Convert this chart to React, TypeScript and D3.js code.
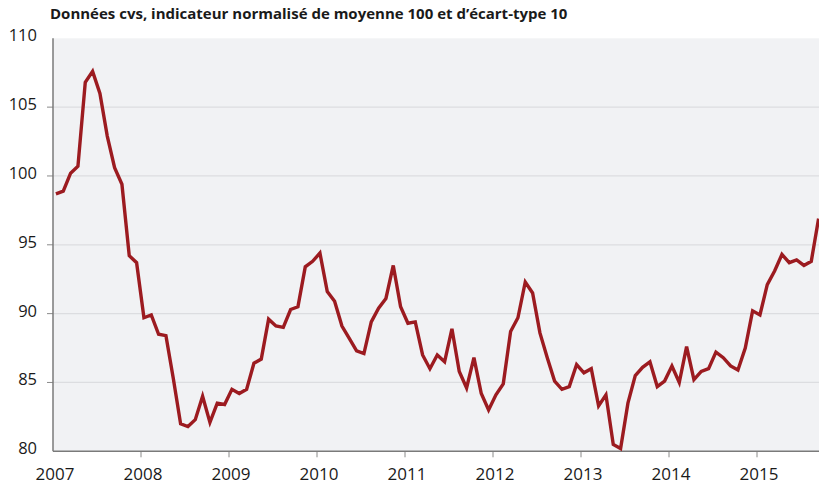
import React from 'react';
import * as d3 from 'd3';

const width = 819;
const height = 484;
const margin = { top: 38.3, right: 0, bottom: 32.7, left: 53 };

const title = 'Données cvs, indicateur normalisé de moyenne 100 et d’écart-type 10';
const startYear = 2007;
const yearTicks = [2007, 2008, 2009, 2010, 2011, 2012, 2013, 2014, 2015];
const valueTicks = [80, 85, 90, 95, 100, 105, 110];

// monthly values, Jan 2007 -> Sep 2015
const values = [
  98.7, 98.9, 100.2, 100.7, 106.8, 107.6, 106.0, 102.9, 100.6, 99.4, 94.2, 93.7,
  89.7, 89.9, 88.5, 88.4, 85.3, 82.0, 81.8, 82.3, 84.0, 82.1, 83.5, 83.4,
  84.5, 84.2, 84.5, 86.4, 86.7, 89.6, 89.1, 89.0, 90.3, 90.5, 93.4, 93.8,
  94.4, 91.6, 90.9, 89.1, 88.2, 87.3, 87.1, 89.4, 90.4, 91.1, 93.5, 90.5,
  89.3, 89.4, 87.0, 86.0, 87.0, 86.5, 88.9, 85.8, 84.6, 86.8, 84.2, 83.0,
  84.1, 84.9, 88.7, 89.7, 92.3, 91.5, 88.6, 86.8, 85.1, 84.5, 84.7, 86.3,
  85.7, 86.0, 83.3, 84.1, 80.5, 80.2, 83.5, 85.5, 86.1, 86.5, 84.7, 85.1,
  86.2, 85.0, 87.6, 85.2, 85.8, 86.0, 87.2, 86.8, 86.2, 85.9, 87.5, 90.2,
  89.9, 92.1, 93.1, 94.3, 93.7, 93.9, 93.5, 93.8, 96.9,
];

const fontFamily = '"Open Sans", "Noto Sans", sans-serif';

export default function App() {
  const x = d3
    .scaleLinear()
    .domain([startYear, startYear + (width - margin.left - margin.right) / 88])
    .range([margin.left, width - margin.right]);
  const y = d3
    .scaleLinear()
    .domain([80, 110])
    .range([height - margin.bottom, margin.top]);

  const line = d3
    .line<number>()
    .x((d, i) => x(startYear + (i + 0.4) / 12))
    .y(d => y(d));

  const x0 = margin.left;
  const x1 = width - margin.right;
  const yBottom = height - margin.bottom;

  return (
    <svg
      width={width}
      height={height}
      style={{ position: 'absolute', left: 0, top: 0, display: 'block' }}
    >
      <rect width={width} height={height} fill="#ffffff" />
      <text x={50} y={19} fontFamily={fontFamily} fontWeight={700} fontSize={15} fill="#1a1a1a">
        {title}
      </text>
      <rect x={x0} y={margin.top} width={x1 - x0} height={yBottom - margin.top} fill="#f1f2f4" />
      {valueTicks.slice(1, -1).map(v => (
        <line key={'g' + v} x1={x0} x2={x1} y1={y(v)} y2={y(v)} stroke="#dcdde0" strokeWidth={1.2} />
      ))}
      {valueTicks.map(v => (
        <g key={'y' + v}>
          {v > 80 && v < 110 && (
            <line x1={x0 - 6} x2={x0} y1={y(v)} y2={y(v)} stroke="#8a8a8a" strokeWidth={1} />
          )}
          <text
            x={37}
            y={y(v) + 3}
            textAnchor="end"
            fontFamily={fontFamily}
            fontSize={16.5}
            fill="#1a1a1a"
          >
            {v}
          </text>
        </g>
      ))}
      {yearTicks.map(t => (
        <g key={'x' + t}>
          {t > startYear && (
            <line x1={x(t)} x2={x(t)} y1={yBottom} y2={yBottom + 6} stroke="#8a8a8a" strokeWidth={1} />
          )}
          <text
            x={x(t) + 2}
            y={yBottom + 28.5}
            textAnchor="middle"
            fontFamily={fontFamily}
            fontSize={17}
            fill="#1a1a1a"
          >
            {t}
          </text>
        </g>
      ))}
      <line x1={x0} x2={x0} y1={margin.top} y2={yBottom} stroke="#7a7a7a" strokeWidth={1.5} />
      <line x1={x0} x2={x1} y1={yBottom} y2={yBottom} stroke="#7a7a7a" strokeWidth={1.5} />
      <path d={line(values) || ''} fill="none" stroke="#9c1b20" strokeWidth={3.4} />
    </svg>
  );
}
